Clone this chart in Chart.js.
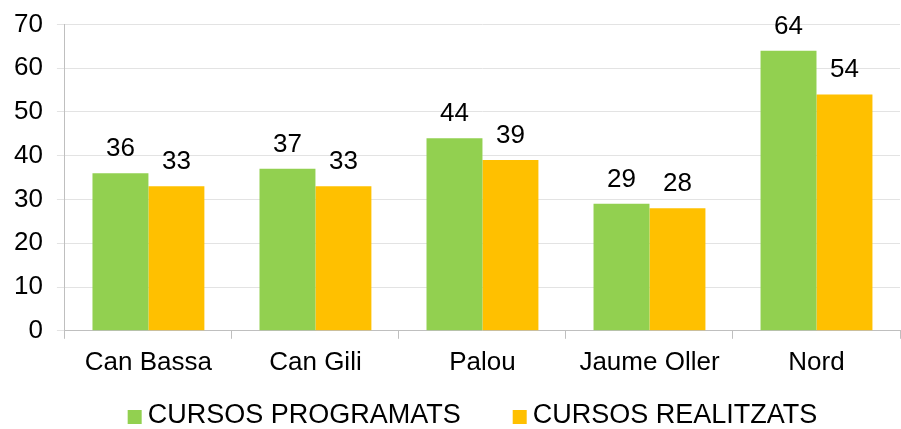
<!DOCTYPE html>
<html>
<head>
<meta charset="utf-8">
<script src="https://cdn.jsdelivr.net/npm/chart.js@4"></script>
<style>
  html, body { margin: 0; padding: 0; background: #fff; }
  #wrap { width: 901px; height: 429px; }
</style>
</head>
<body>
<div id="wrap"><canvas id="myChart" width="901" height="429"></canvas></div>
<script>
const categories = ['Can Bassa', 'Can Gili', 'Palou', 'Jaume Oller', 'Nord'];
const programats = [36, 37, 44, 29, 64];
const realitzats = [33, 33, 39, 28, 54];

const FONT = "'Liberation Sans', Arial, sans-serif";

// values above every bar
const barLabels = {
  id: 'barLabels',
  afterDatasetsDraw(chart) {
    const ctx = chart.ctx;
    ctx.save();
    ctx.font = '26px ' + FONT;
    ctx.fillStyle = '#000';
    ctx.textAlign = 'center';
    ctx.textBaseline = 'alphabetic';
    chart.data.datasets.forEach((ds, i) => {
      chart.getDatasetMeta(i).data.forEach((bar, j) => {
        ctx.fillText(ds.data[j], bar.x, bar.y - 17);
      });
    });
    ctx.restore();
  }
};

// legend like the office one: small square, text close to it, wide gap
const bottomLegend = {
  id: 'bottomLegend',
  afterDraw(chart) {
    const ctx = chart.ctx;
    const box = 14, gap = 6, between = 52;
    ctx.save();
    ctx.font = '27px ' + FONT;
    ctx.textBaseline = 'middle';
    ctx.textAlign = 'left';
    const items = chart.data.datasets.map(ds => ({
      text: ds.label, color: ds.backgroundColor, w: ctx.measureText(ds.label).width
    }));
    let total = items.reduce((s, it) => s + box + gap + it.w, 0) + between * (items.length - 1);
    let x = (chart.chartArea.left + chart.chartArea.right) / 2 - 10 - total / 2;
    const y = 416;
    items.forEach(it => {
      ctx.fillStyle = it.color;
      ctx.fillRect(x, y - box / 2 + 1, box, box);
      ctx.fillStyle = '#000';
      ctx.fillText(it.text, x + box + gap, y);
      x += box + gap + it.w + between;
    });
    ctx.restore();
  }
};

const ctx = document.getElementById('myChart').getContext('2d');
const myChart = new Chart(ctx, {
  type: 'bar',
  data: {
    labels: categories,
    datasets: [{
      label: 'CURSOS PROGRAMATS',
      data: programats,
      backgroundColor: '#92D050',
      borderWidth: 0
    }, {
      label: 'CURSOS REALITZATS',
      data: realitzats,
      backgroundColor: '#FFC000',
      borderWidth: 0
    }]
  },
  options: {
    responsive: false,
    animation: false,
    layout: { padding: { top: 2, right: 1, left: 0, bottom: 43 } },
    datasets: { bar: { barPercentage: 1, categoryPercentage: 0.67 } },
    plugins: {
      tooltip: { enabled: false },
      legend: { display: false }
    },
    scales: {
      x: {
        grid: { offset: true, drawOnChartArea: false, tickLength: 8, color: '#bfbfbf' },
        border: { color: '#bfbfbf' },
        ticks: { font: { family: FONT, size: 26 }, color: '#000', padding: 8 }
      },
      y: {
        min: 0,
        max: 70,
        ticks: { stepSize: 10, font: { family: FONT, size: 26, lineHeight: 0.8 }, color: '#000', padding: 14 },
        grid: { color: '#e3e3e3', tickLength: 8 },
        border: { color: '#bfbfbf' }
      }
    }
  },
  plugins: [barLabels, bottomLegend]
});
</script>
</body>
</html>
